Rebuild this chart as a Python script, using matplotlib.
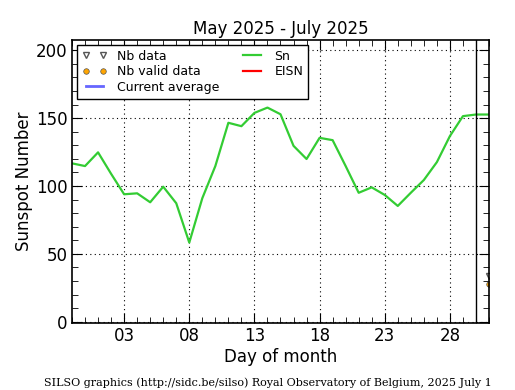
import matplotlib
matplotlib.use('Agg')
import matplotlib.pyplot as plt
from matplotlib.ticker import MultipleLocator, FixedLocator

# daily sunspot number, one value per day from day -1 to day 31
days = list(range(-1, 32))
sn = [116.7, 114.7, 124.8, 109.0, 93.9, 94.6, 88.0, 99.5, 87.3, 58.3,
      91.0, 114.7, 146.6, 144.1, 153.9, 157.8, 152.9, 129.6, 119.9, 135.5,
      133.8, 114.7, 95.0, 99.0, 93.4, 85.3, 95.0, 104.4, 117.6, 136.8,
      151.5, 152.7, 152.7]
nb_day = [31]
nb_data = [34]
nb_valid = [28]
today = 30
tick_days = [3, 8, 13, 18, 23, 28]
tick_labels = ['03', '08', '13', '18', '23', '28']

fig = plt.figure(figsize=(5.15, 3.9), dpi=100)
ax = fig.add_axes([0.1398, 0.1718, 0.8097, 0.7269])

ax.plot(nb_day, nb_data, linestyle='none', marker='v', color='#555555',
        markersize=4, markerfacecolor='none', label='Nb data')
ax.plot(nb_day, nb_valid, linestyle='none', marker='o', color='orange',
        markeredgecolor='#555555', markeredgewidth=0.5, markersize=4,
        label='Nb valid data')
ax.plot([], [], color='#6666ff', lw=2, label='Current average')
ax.plot(days, sn, color='#33cc33', lw=1.6, label='Sn')
ax.plot([], [], color='red', lw=1.6, label='EISN')
ax.axvline(today, color='black', lw=1)

ax.set_xlim(-1, 31)
ax.set_ylim(-1, 208)
ax.xaxis.set_major_locator(FixedLocator(tick_days))
ax.set_xticklabels(tick_labels)
ax.xaxis.set_minor_locator(MultipleLocator(1))
ax.yaxis.set_major_locator(MultipleLocator(50))
ax.yaxis.set_minor_locator(MultipleLocator(10))
ax.tick_params(which='both', direction='in', top=True, right=True, labelsize=12)
ax.tick_params(which='major', length=7, pad=3)
ax.tick_params(which='minor', length=4)
ax.grid(True, which='major', color='black', linestyle=(0, (1, 3)), lw=0.8)
for s in ax.spines.values():
    s.set_linewidth(1.2)

ax.set_title('May 2025 - July 2025', fontsize=12, pad=4)
ax.set_xlabel('Day of month', fontsize=12, labelpad=2)
ax.set_ylabel('Sunspot Number', fontsize=12, labelpad=2)

leg = ax.legend(loc='upper left', ncol=2, numpoints=2, fontsize=9,
                fancybox=False, framealpha=1, edgecolor='black',
                borderaxespad=0.4, handlelength=2, columnspacing=1.6,
                labelspacing=0.2)
leg.get_frame().set_linewidth(1)

fig.text(0.52, 0.005, 'SILSO graphics (http://sidc.be/silso) Royal Observatory of Belgium, 2025 July 1',
         ha='center', va='bottom', fontsize=8, family='DejaVu Serif')

fig.savefig('out.png', dpi=100)
